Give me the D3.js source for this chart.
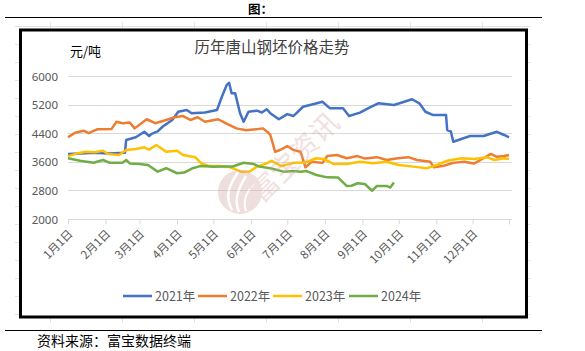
<!DOCTYPE html>
<html>
<head>
<meta charset="utf-8">
<script src="https://cdn.jsdelivr.net/npm/d3@7"></script>
<style>
  body { margin: 0; background: #fff; }
  svg { display: block; }
  text { font-family: "Noto Sans CJK SC", "Noto Sans", sans-serif; }
</style>
</head>
<body>
<div id="graph"></div>
<script>
// values, [month-day, 元/吨]
const s2021 = [["01-01",3820],["01-11",3830],["01-23",3850],["02-04",3830],["02-17",3850],["02-18",4210],
  ["02-26",4285],["03-05",4440],["03-09",4320],["03-11",4380],["03-16",4450],["03-20",4580],["03-28",4770],
  ["04-02",5000],["04-09",5050],["04-13",4960],["04-24",4980],["05-04",5050],["05-08",5420],["05-12",5750],
  ["05-14",5810],["05-16",5515],["05-19",5515],["05-23",4960],["05-26",4720],["05-30",5000],["06-06",5030],
  ["06-10",4980],["06-14",5070],["06-17",4960],["06-24",4790],["07-01",4935],["07-06",4880],["07-14",5140],
  ["07-23",5215],["07-30",5280],["08-05",5100],["08-16",5100],["08-21",4880],["08-30",4975],["09-06",5100],
  ["09-14",5235],["09-27",5190],["10-01",5230],["10-12",5350],["10-18",5235],["10-23",5000],["10-29",4910],
  ["11-09",4910],["11-10",4490],["11-13",4450],["11-15",4160],["11-21",4230],["11-29",4320],["12-10",4320],
  ["12-21",4440],["12-27",4350],["12-31",4285]];
const s2022 = [["01-01",4285],["01-07",4415],["01-14",4470],["01-18",4400],["01-25",4510],["02-06",4520],
  ["02-10",4720],["02-15",4680],["02-21",4700],["02-25",4535],["03-07",4790],["03-14",4680],["03-21",4750],
  ["03-30",4845],["04-06",4880],["04-12",4770],["04-18",4845],["04-24",4720],["05-05",4790],["05-11",4680],
  ["05-20",4535],["05-28",4480],["06-11",4535],["06-15",4420],["06-17",4350],["06-21",3880],["06-25",3930],
  ["07-01",4040],["07-06",3930],["07-12",3880],["07-16",3445],["07-21",3600],["07-30",3570],["08-03",3760],
  ["08-11",3790],["08-19",3700],["08-28",3760],["09-03",3690],["09-13",3730],["09-21",3650],["09-30",3700],
  ["10-09",3730],["10-16",3650],["10-27",3600],["10-30",3445],["11-07",3490],["11-15",3570],["11-24",3600],
  ["12-02",3550],["12-10",3700],["12-16",3820],["12-21",3740],["12-27",3760],["12-31",3790]];
const s2023 = [["01-01",3760],["01-08",3830],["01-16",3880],["01-23",3870],["01-30",3910],["02-03",3820],
  ["02-12",3790],["02-18",3930],["02-26",3960],["03-05",4005],["03-09",3940],["03-15",4070],["03-23",3880],
  ["04-01",3910],["04-06",3790],["04-16",3730],["04-21",3555],["04-28",3480],["05-06",3480],["05-15",3445],
  ["05-24",3325],["05-31",3330],["06-06",3465],["06-14",3555],["06-18",3630],["06-26",3480],["07-06",3570],
  ["07-16",3580],["07-25",3700],["07-31",3680],["08-08",3540],["08-19",3540],["08-30",3600],["09-10",3560],
  ["09-21",3600],["10-01",3510],["10-13",3465],["10-24",3420],["10-30",3480],["11-10",3630],["11-22",3700],
  ["12-02",3680],["12-13",3725],["12-19",3650],["12-27",3700],["12-31",3680]];
const s2024 = [["01-01",3700],["01-11",3630],["01-22",3575],["01-30",3650],["02-04",3575],["02-15",3575],
  ["02-18",3650],["02-21",3555],["03-01",3540],["03-08",3510],["03-16",3325],["03-23",3420],["04-01",3280],
  ["04-07",3300],["04-14",3420],["04-20",3480],["05-01",3465],["05-09",3470],["05-17",3470],["05-26",3575],
  ["06-03",3540],["06-08",3465],["06-17",3420],["06-28",3325],["07-06",3340],["07-12",3325],["07-17",3340],
  ["07-25",3230],["08-03",3165],["08-12",3160],["08-19",2925],["08-23",2930],["08-28",3000],["09-03",2980],
  ["09-09",2790],["09-13",2925],["09-21",2925],["09-24",2880],["09-27",3020]];

const seriesNames = ["2021年","2022年","2023年","2024年"];
const seriesData = [s2021, s2022, s2023, s2024];
const colors = ["#4472C4","#ED7D31","#FFC000","#70AD47"];
const yTicks = [2000,2800,3600,4400,5200,6000];

const width = 585, height = 351;
const parseDay = d3.timeParse("%Y-%m-%d");
const day = s => parseDay("2021-" + s);
const labelFormat = d3.timeFormat("%-m月%-d日");

const svg = d3.select("div#graph").append("svg")
  .attr("width", width).attr("height", height);

// spreadsheet cell grid behind the chart
const grid = svg.append("g").attr("stroke", "#e3e3e3").attr("stroke-width", 1);
d3.range(26, 315, 18).forEach(y => grid.append("line")
  .attr("x1", 15).attr("x2", 531).attr("y1", y + 0.5).attr("y2", y + 0.5));
d3.range(50, 483, 72).forEach(x => grid.append("line")
  .attr("x1", x + 0.5).attr("x2", x + 0.5).attr("y1", 22).attr("y2", 323));

// top caption and rules
svg.append("text").attr("x", 248).attr("y", 14).attr("font-size", 12.5)
  .attr("font-weight", "bold").text("图：");
svg.append("line").attr("x1", 5).attr("x2", 542).attr("y1", 17.5).attr("y2", 17.5)
  .attr("stroke", "#000").attr("stroke-width", 1);
svg.append("line").attr("x1", 5).attr("x2", 542).attr("y1", 330.5).attr("y2", 330.5)
  .attr("stroke", "#000").attr("stroke-width", 1);
svg.append("text").attr("x", 37).attr("y", 346).attr("font-size", 14)
  .attr("fill", "#000").text("资料来源：富宝数据终端");

// chart frame
svg.append("rect").attr("x", 20.5).attr("y", 30).attr("width", 506).attr("height", 287)
  .attr("fill", "#fff").attr("stroke", "#000").attr("stroke-width", 3);

svg.append("text").attr("x", 272).attr("y", 53).attr("text-anchor", "middle")
  .attr("font-size", 15.5).attr("fill", "#404040").text("历年唐山钢坯价格走势");
svg.append("text").attr("x", 70).attr("y", 56).attr("font-size", 13)
  .attr("fill", "#000").text("元/吨");

const xScale = d3.scaleTime()
  .domain([day("01-01"), day("12-31")])
  .range([68, 509]);
const yScale = d3.scaleLinear()
  .domain([2000, 6000])
  .range([219, 76]);

// horizontal gridlines
svg.append("g")
  .selectAll("line").data(yTicks).join("line")
  .attr("x1", 68).attr("x2", 512)
  .attr("y1", d => Math.round(yScale(d)) + 0.5).attr("y2", d => Math.round(yScale(d)) + 0.5)
  .attr("stroke", "#d9d9d9").attr("stroke-width", 1);

const yAxis = d3.axisLeft(yScale).tickValues(yTicks).tickSize(0).tickPadding(10)
  .tickFormat(d3.format("d"));
svg.append("g").attr("class", "y axis").attr("transform", "translate(68,0.5)")
  .call(yAxis)
  .call(g => g.select(".domain").remove())
  .selectAll("text").attr("font-size", 11.5).attr("fill", "#595959")
  .style("font-family", "'Noto Sans', sans-serif");

const monthTicks = d3.timeMonth.range(day("01-01"), day("12-31")).concat([day("12-31")]);
const xAxis = d3.axisBottom(xScale).tickValues(monthTicks).tickSize(5)
  .tickFormat((d, i) => i < 12 ? labelFormat(d) : "");
svg.append("g").attr("class", "x axis").attr("transform", "translate(0,219.5)")
  .call(xAxis)
  .call(g => g.select(".domain").attr("stroke", "#d9d9d9").attr("d", "M68,0H512"))
  .call(g => g.selectAll(".tick line").attr("stroke", "#d9d9d9"))
  .selectAll("text")
  .attr("font-size", 11.5).attr("fill", "#595959")
  .style("text-anchor", "end")
  .attr("x", 0).attr("y", 0).attr("dy", 0)
  .attr("transform", "translate(5,15) rotate(-45)");

const line = d3.line()
  .x(d => xScale(day(d[0])))
  .y(d => yScale(d[1]));

svg.append("g").selectAll("path").data(seriesData).join("path")
  .attr("d", line)
  .attr("fill", "none")
  .attr("stroke", (d, i) => colors[i])
  .attr("stroke-width", 2.5)
  .attr("stroke-linejoin", "round");

// watermark
const wm = svg.append("g").attr("opacity", 0.35);
wm.append("circle").attr("cx", 240).attr("cy", 192).attr("r", 22).attr("fill", "#d4a3a3");
[["M232,210 C224,196 230,184 238,172", 2.5], ["M239,212 C233,198 240,186 246,176", 2.5],
 ["M246,211 C242,200 248,190 254,184", 2]].forEach(p => wm.append("path")
  .attr("d", p[0]).attr("fill", "none").attr("stroke", "#fff").attr("stroke-width", p[1]));
wm.append("text").attr("transform", "translate(262,204) rotate(-45)")
  .attr("font-size", 28).attr("fill", "#d8a8a8").text("富宝资讯");

// legend
const legendX = [123, 198, 273, 349];
const legend = svg.append("g").selectAll("g").data(seriesNames).join("g")
  .attr("transform", (d, i) => `translate(${legendX[i]},296)`);
legend.append("line").attr("x1", 0).attr("x2", 29).attr("y1", 0).attr("y2", 0)
  .attr("stroke", (d, i) => colors[i]).attr("stroke-width", 2.5);
legend.append("text").attr("x", 32).attr("y", 4.5).attr("font-size", 12.5)
  .attr("fill", "#595959").text(d => d);
</script>
</body>
</html>
